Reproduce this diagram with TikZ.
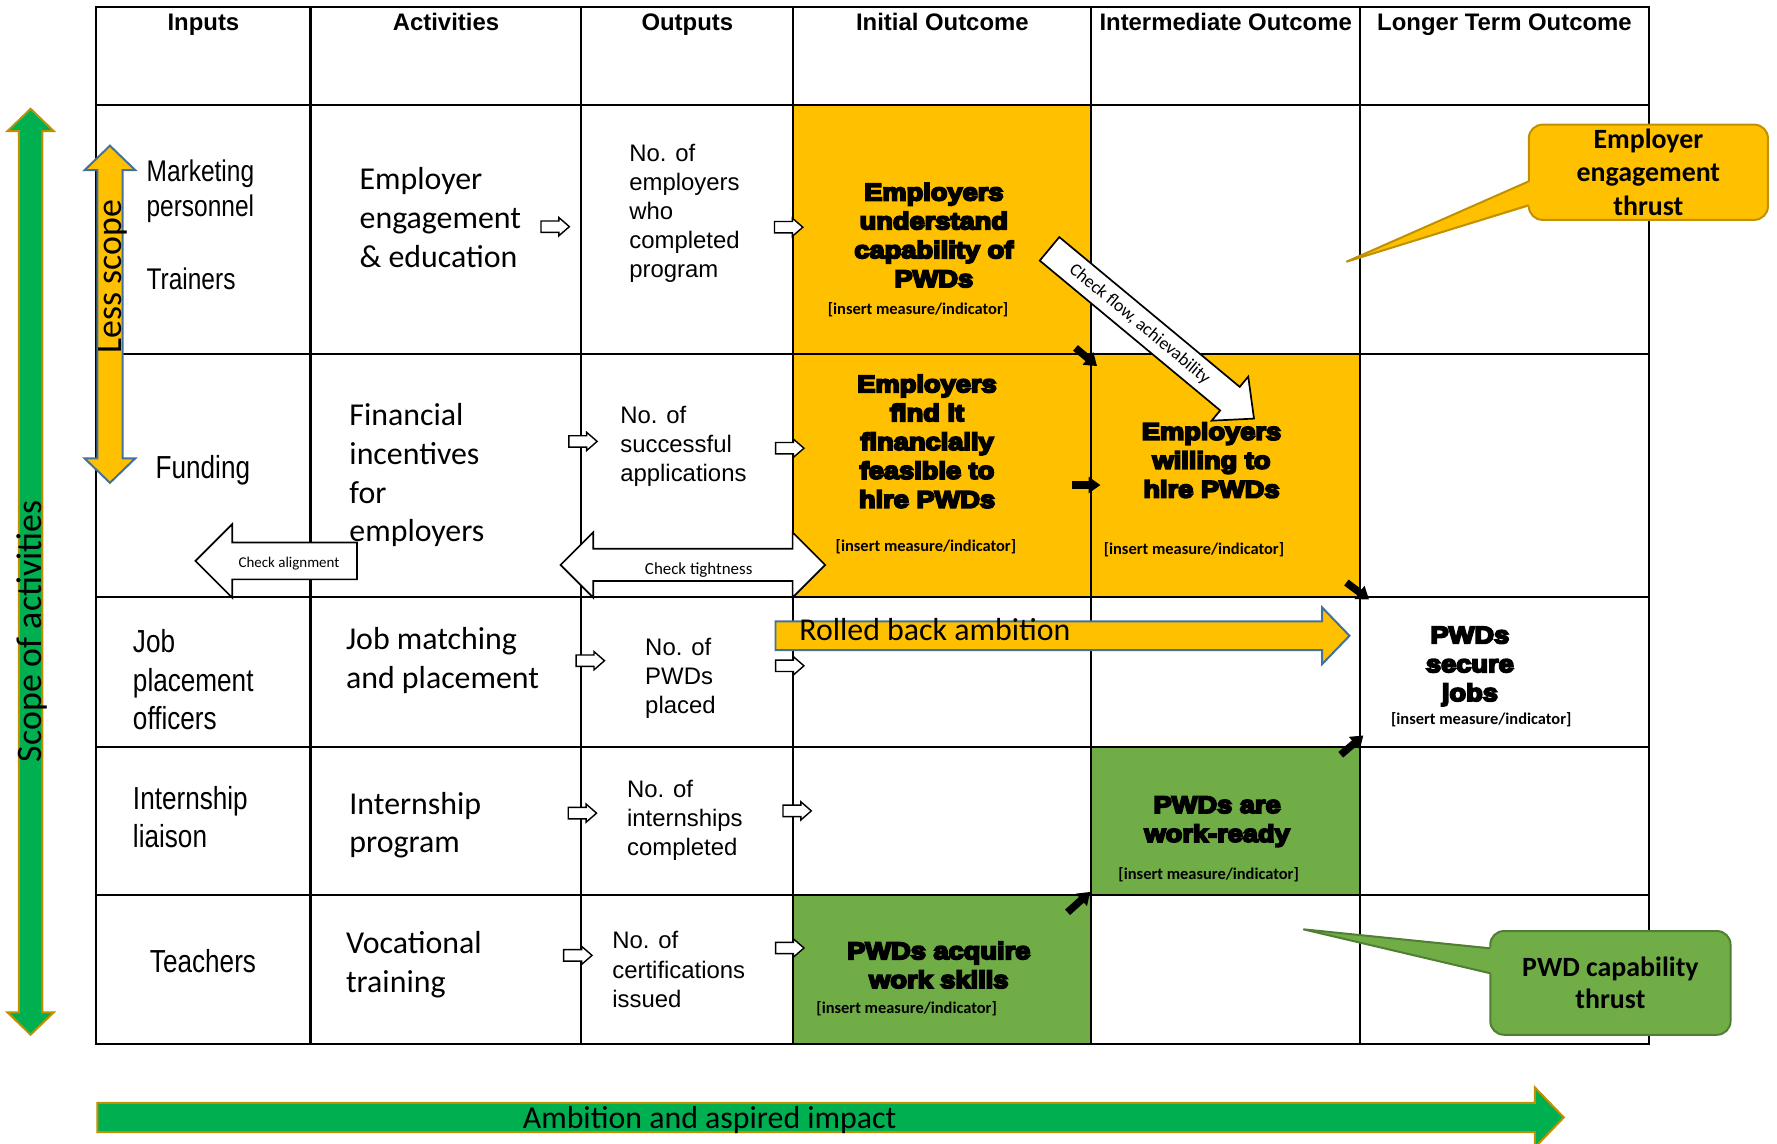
\documentclass[tikz,border=0pt]{standalone}
\usepackage{fontspec}
\setmainfont{Liberation Sans}
\newfontfamily\calfont{Carlito}
\newfontfamily\narrowfont[FakeStretch=0.82]{Liberation Sans}
\newfontfamily\blackfont[FakeStretch=1.14,BoldFeatures={FakeBold=8}]{Liberation Sans}
\usepackage{xcolor}
\usepackage{tikz}
\usetikzlibrary{shapes.arrows}
\usetikzlibrary{arrows.meta}

\definecolor{amber}{HTML}{FFC000}
\definecolor{leaf}{HTML}{70AD47}
\definecolor{grass}{HTML}{00B050}
\definecolor{gold}{HTML}{BF9000}
\definecolor{steel}{HTML}{41719C}
\definecolor{moss}{HTML}{507E32}

\begin{document}
\begin{tikzpicture}[x=0.2mm, y=-0.2mm]
        \tikzset{grid/.style = {line width=0.38mm, line cap=rect}}
        \tikzset{head/.style = {font=\bfseries\fontsize{12}{14}\selectfont, anchor=base, inner sep=0pt}}
        \tikzset{who/.style = {font=\narrowfont\fontsize{16}{19.3}\selectfont, align=left, anchor=west, inner sep=0pt}}
        \tikzset{act/.style = {font=\calfont\fontsize{16}{19.4}\selectfont, align=left, anchor=west, inner sep=0pt}}
        \tikzset{count/.style = {font=\fontsize{12}{14.6}\selectfont, align=left, anchor=west, inner sep=0pt}}
        \tikzset{result/.style = {font=\blackfont\bfseries\fontsize{12}{14.5}\selectfont, align=center, inner sep=0pt}}
        \tikzset{measure/.style = {font=\calfont\bfseries\fontsize{8.25}{10}\selectfont, inner sep=0pt}}
        \tikzset{hollow/.style = {single arrow, draw, fill=white, line width=0.25mm, inner xsep=0pt, inner ysep=0.88mm, minimum height=5mm, minimum width=2.9mm, single arrow head extend=0.6mm, single arrow tip angle=82}}
        \tikzset{push/.style = {line width=1.3mm, -{Triangle[length=2.1mm, width=2.8mm]}}}
        \tikzset{check/.style = {draw, fill=white, line width=0.3mm, inner xsep=0pt, single arrow tip angle=90, double arrow tip angle=90}}
        \tikzset{checktext/.style = {font=\calfont\fontsize{8.5}{10}\selectfont, inner sep=0pt}}
        \tikzset{band/.style = {line width=0.35mm, inner xsep=0pt, single arrow tip angle=92, double arrow tip angle=92}}
        \tikzset{bandtext/.style = {font=\calfont\fontsize{16}{18}\selectfont, inner sep=0pt}}
        \tikzset{thrust/.style = {rounded corners=2.4mm, line width=0.35mm, inner sep=0pt, outer sep=0pt, align=center, font=\calfont\bfseries\fontsize{14}{16.8}\selectfont}}

        \useasboundingbox (0,0) rectangle (1568,1009);

        % outcome cells
        \fill[amber] (700,93) rectangle (963,527);
        \fill[amber] (963,312) rectangle (1200,527);
        \fill[leaf] (963,659) rectangle (1200,790);
        \fill[leaf] (700,790) rectangle (963,921);

        % table
        \foreach \x in {85,274,513,700,963,1200,1455}
            \draw[grid] (\x,6) -- (\x,921);
        \foreach \y in {6,93,312,527,659,790,921}
            \draw[grid] (85,\y) -- (1455,\y);

        % column heads
        \node[head] (hin) at (179.5,27) {Inputs};
        \node[head] (hact) at (393.5,27) {Activities};
        \node[head] (hout) at (606.5,27) {Outputs};
        \node[head] (hini) at (831.5,27) {Initial Outcome};
        \node[head] (hmid) at (1081.5,27) {Intermediate Outcome};
        \node[head] (hlong) at (1327.5,27) {Longer Term Outcome};

        % inputs
        \node[who, font=\narrowfont\fontsize{15}{17.6}\selectfont] (mkt) at (129,169) {Marketing\\personnel};
        \node[who, font=\narrowfont\fontsize{15}{17.6}\selectfont] (trn) at (129,246) {Trainers};
        \node[who] (fund) at (137,415) {Funding};
        \node[who] (jpo) at (117,600) {Job\\placement\\officers};
        \node[who] (intl) at (117,721) {Internship\\liaison};
        \node[who] (tch) at (132,848.5) {Teachers};

        % activities
        \node[act] (eng) at (317,192) {Employer\\engagement\\\& education};
        \node[act] (fin) at (308,419.5) {Financial\\incentives\\for\\employers};
        \node[act] (match) at (305,583) {Job matching\\and placement};
        \node[act] (intern) at (308,728) {Internship\\program};
        \node[act] (voc) at (305,851) {Vocational\\training};

        % outputs
        \node[count] (nemp) at (555,188) {No. of\\employers\\who\\completed\\program};
        \node[count] (napp) at (547,394) {No. of\\successful\\applications};
        \node[count] (nplc) at (569,598.5) {No. of\\PWDs\\placed};
        \node[count] (nint) at (553,724) {No. of\\internships\\completed};
        \node[count] (ncert) at (540,855.5) {No. of\\certifications\\issued};

        % outcomes
        \node[result] (understand) at (824,207.5) {Employers\\understand\\capability of\\PWDs};
        \node[measure] (m1) at (810,273.5) {[insert measure/indicator]};
        \node[result] (feasible) at (818,389.5) {Employers\\find it\\financially\\feasible to\\hire PWDs};
        \node[measure] (m2) at (817,482) {[insert measure/indicator]};
        \node[result] (willing) at (1069,406) {Employers\\willing to\\hire PWDs};
        \node[measure] (m3) at (1053.5,485) {[insert measure/indicator]};
        \node[result] (secure) at (1297,588) {PWDs\\secure\\jobs};
        \node[measure] (m4) at (1307,635) {[insert measure/indicator]};
        \node[result] (ready) at (1074,725) {PWDs are\\work-ready};
        \node[measure] (m5) at (1066.5,772) {[insert measure/indicator]};
        \node[result] (skills) at (828.4,851.5) {PWDs acquire\\work skills};
        \node[measure] (m6) at (800,890) {[insert measure/indicator]};

        % small flow arrows
        \node[hollow] (a1) at (487,200) {};
        \node[hollow] (a2) at (511.5,389.5) {};
        \node[hollow] (a3) at (518,583) {};
        \node[hollow] (a4) at (511,717.5) {};
        \node[hollow] (a5) at (507,843) {};
        \node[hollow] (b1) at (693,200.5) {};
        \node[hollow] (b2) at (694,395.5) {};
        \node[hollow] (b3) at (694,587.5) {};
        \node[hollow] (b4) at (700.5,715.5) {};
        \node[hollow] (b5) at (694,836.5) {};

        % links between outcomes
        \coordinate (k1) at (963,312);
        \coordinate (k2) at (1200,527);
        \coordinate (k3) at (1200,659);
        \coordinate (k4) at (963,790);
        \coordinate (k5) at (963,428);
        \draw[push] ([shift={(-14,-5)}]k1) -- ([shift={(5,11)}]k1);
        \draw[push] ([shift={(-17,0)}]k5) -- ([shift={(8,0)}]k5);
        \draw[push] ([shift={(-12,-13)}]k2) -- ([shift={(8,2)}]k2);
        \draw[push] ([shift={(-17,7)}]k3) -- ([shift={(3,-10)}]k3);
        \draw[push] ([shift={(-21,15)}]k4) -- ([shift={(-1,-3)}]k4);

        % checks
        \node[check, single arrow, shape border rotate=180, inner ysep=3.1mm, minimum height=28.5mm, minimum width=12.7mm, single arrow head extend=3.25mm, anchor=tail] (align) at (315.7,495) {};
        \node[checktext, font=\calfont\fontsize{7.5}{9}\selectfont] (alignt) at (255,497) {Check alignment};
        \node[check, double arrow, inner ysep=2.7mm, minimum height=46.7mm, minimum width=11.2mm, double arrow head extend=2.9mm] (tight) at (611.4,498.5) {};
        \node[checktext] (tightt) at (616.5,503) {Check tightness};
        \node[check, single arrow, rotate=-39.7, inner ysep=2.55mm, minimum height=46.9mm, minimum width=9.8mm, single arrow head extend=2.35mm, single arrow tip angle=85, anchor=tail] (flow) at (925.5,219.1) {};
        \node[checktext, font=\calfont\fontsize{9}{10}\selectfont, rotate=-39.7] (flowt) at (1005.5,286) {Check flow, achievability};

        % rolled back ambition
        \node[band, single arrow, fill=amber, draw=steel, inner ysep=2.35mm, minimum height=101.3mm, minimum width=9.7mm, single arrow head extend=2.5mm, anchor=tail] (rolled) at (683.4,561) {};
        \node[bandtext, anchor=base west] (rolledt) at (705,565) {Rolled back ambition};

        % scope
        \node[band, double arrow, fill=grass, draw=gold, rotate=90, inner ysep=1.9mm, minimum height=163.4mm, minimum width=7.8mm, double arrow head extend=2mm] (scope) at (27,504.5) {};
        \node[bandtext, font=\calfont\fontsize{18}{20}\selectfont, rotate=90, anchor=base] (scopet) at (36.5,557) {Scope of activities};
        \node[band, double arrow, fill=amber, draw=steel, rotate=90, inner ysep=2.05mm, minimum height=59.5mm, minimum width=8.6mm, double arrow head extend=2.25mm] (less) at (97,277.3) {};
        \node[bandtext, font=\calfont\fontsize{18}{20}\selectfont, rotate=90, anchor=base] (lesst) at (107.4,244) {Less scope};

        % ambition
        \node[band, single arrow, fill=grass, draw=gold, inner ysep=2.4mm, minimum height=258.8mm, minimum width=10.2mm, single arrow head extend=2.7mm, anchor=tail] (impact) at (85,986) {};
        \node[bandtext, anchor=base west] (impactt) at (461,995.5) {Ambition and aspired impact};

        % thrusts
        \node[thrust, fill=amber, draw=gold, minimum width=42.2mm, minimum height=16.8mm] (empthrust) at (1454.5,152) {Employer\\engagement\\thrust};
        \coordinate (emptip) at (1188,231);
        \fill[amber] (emptip) -- ([xshift=0.5mm, yshift=-1.5mm]empthrust.west) -- ([xshift=0.5mm, yshift=-5.9mm]empthrust.west) -- cycle;
        \draw[gold, line width=0.35mm] ([yshift=-1.6mm]empthrust.west) -- (emptip) -- ([yshift=-5.8mm]empthrust.west);

        \node[thrust, fill=leaf, draw=moss, minimum width=42.4mm, minimum height=18.3mm, font=\calfont\bfseries\fontsize{14}{16}\selectfont] (capthrust) at (1421,867.3) {PWD capability\\thrust};
        \coordinate (captip) at (1150,820);
        \fill[leaf] (captip) -- ([xshift=0.5mm, yshift=6.2mm]capthrust.west) -- ([xshift=0.5mm, yshift=1.6mm]capthrust.west) -- cycle;
        \draw[moss, line width=0.35mm] ([yshift=6.1mm]capthrust.west) -- (captip) -- ([yshift=1.7mm]capthrust.west);

\end{tikzpicture}
\end{document}
